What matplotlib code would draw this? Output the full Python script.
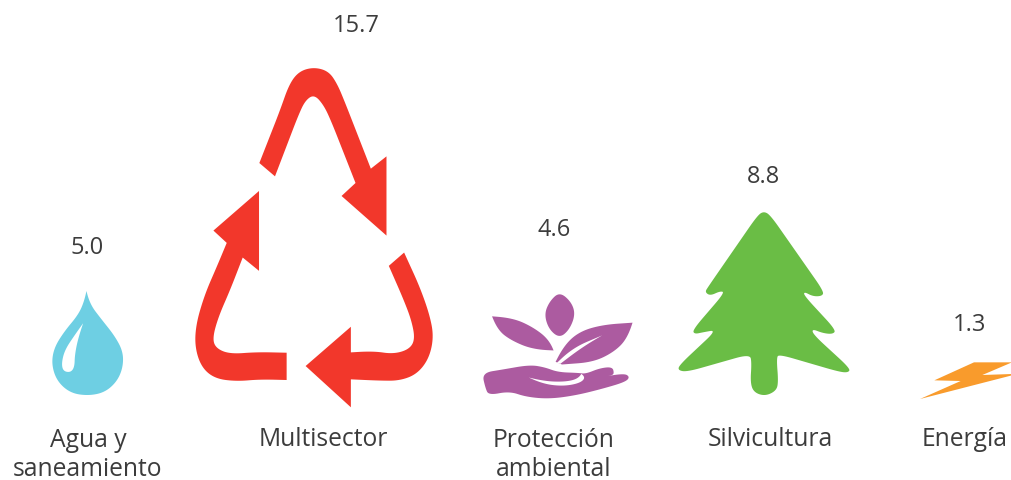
import numpy as np
import matplotlib
matplotlib.use("Agg")
import matplotlib.pyplot as plt
from matplotlib.path import Path
from matplotlib.patches import PathPatch

categories = ["Agua y\nsaneamiento", "Multisector", "Protección\nambiental", "Silvicultura", "Energía"]
values = [5.0, 15.7, 4.6, 8.8, 1.3]
value_labels = ["5.0", "15.7", "4.6", "8.8", "1.3"]
colors = ["#6ECFE3", "#F2372B", "#AC5BA0", "#6ABD45", "#F99B2C"]

# layout (pixels)
icon_cx = [87.7, 314, 558, 764, 966]
icon_base = [395, 407.3, 398.3, 395, 399]
px_per_unit = [20.8, 21.6, 22.6, 20.76, 28.2]
value_xy = [(87, 248), (356, 25.5), (554, 230.5), (764, 177), (970, 325)]
label_xy = [(88, 455), (323, 439.5), (554, 455), (770, 439.5), (965, 439.5)]
TEXT = "#3C3C3C"
C = 1  # corner flag
MAX_CUT = 45.0


def outline(pts):
    """Closed outline: flagged points stay sharp, others are rounded off with a quadratic curve."""
    P = [np.array(p[:2], float) for p in pts]
    corner = [len(p) > 2 and p[2] == C for p in pts]
    n = len(P)
    out = []
    for i in range(n):
        prev, cur, nxt = P[i - 1], P[i], P[(i + 1) % n]
        if corner[i]:
            out.append(cur)
            continue
        d1, d2 = np.linalg.norm(prev - cur), np.linalg.norm(nxt - cur)
        c1 = min(MAX_CUT, d1 * (0.5 if not corner[i - 1] else 0.8))
        c2 = min(MAX_CUT, d2 * (0.5 if not corner[(i + 1) % n] else 0.8))
        a = cur + (prev - cur) / d1 * c1
        b = cur + (nxt - cur) / d2 * c2
        for t in np.linspace(0, 1, 12):
            out.append((1 - t) ** 2 * a + 2 * (1 - t) * t * cur + t ** 2 * b)
    return np.array(out)


drop = [[(170, 33, C), (180, 72), (215, 118), (255, 168), (280, 215), (280, 262), (262, 305), (225, 338),
         (175, 348), (122, 340), (82, 305), (65, 255), (72, 205), (103, 155), (145, 105), (163, 65)]]
drop_white = [[(160, 130, C), (135, 165), (105, 210), (95, 250), (100, 274), (122, 278), (134, 262), (135, 225),
               (145, 175)]]

recycle = [
    [(238, 338, C), (300, 180), (328, 100), (358, 62), (402, 50), (446, 62), (472, 100), (495, 155),
     (573, 355, C), (620, 318, C), (620, 556, C), (485, 437, C), (527, 398, C), (455, 215), (432, 165),
     (403, 132), (376, 150), (355, 195), (285, 378, C)],
    [(627, 647, C), (673, 607, C), (720, 710), (750, 795), (762, 860), (748, 925), (712, 972), (660, 992),
     (600, 992), (513, 988, C), (513, 1072, C), (377, 948, C), (513, 830, C), (513, 907, C), (580, 903),
     (640, 912), (688, 898), (706, 868), (695, 810), (670, 745)],
    [(320, 908, C), (320, 990, C), (240, 988), (170, 994), (105, 986), (64, 952), (44, 890), (48, 820),
     (75, 730), (110, 650), (140, 578, C), (100, 541, C), (237, 422, C), (237, 662, C), (188, 622, C),
     (150, 720), (115, 800), (97, 865), (108, 895), (150, 912), (230, 906)],
]

lotus = [
    [(270, 38), (305, 68), (317, 105), (300, 150), (270, 176), (238, 150), (224, 105), (240, 66)],
    [(68, 111, C), (130, 116), (190, 143), (238, 180), (252, 213, C), (190, 210), (125, 183), (85, 152)],
    [(488, 130, C), (472, 178), (432, 218), (370, 248), (277, 255, C), (258, 247, C), (283, 198), (330, 156),
     (400, 136)],
    [(38, 280), (100, 270), (180, 256), (225, 263), (265, 278), (325, 280), (348, 283), (390, 266),
     (428, 262), (433, 282), (425, 288), (395, 293, C), (462, 281), (480, 292), (467, 307), (400, 327),
     (320, 347), (240, 358), (170, 352), (120, 335), (58, 347), (48, 325)],
]
lotus_white = [
    [(262, 250, C), (310, 205), (397, 168, C), (335, 205), (272, 253, C)],
    [(178, 294, C), (225, 305), (285, 307), (325, 298), (335, 283, C), (348, 294), (330, 311), (280, 320),
     (220, 313)],
]

tree = [[(282, 32), (302, 44), (463, 274), (458, 288), (430, 289), (404, 275), (403, 286), (500, 391), (490, 403),
         (460, 400), (427, 387), (432, 405), (543, 507), (537, 519), (510, 517), (328, 464), (320, 475), (326, 550),
         (318, 575), (285, 590), (252, 579), (241, 550), (245, 490), (240, 463), (50, 517), (22, 512), (28, 495),
         (140, 390), (100, 397), (72, 403), (67, 390), (164, 277), (150, 273), (120, 287), (104, 276), (113, 261),
         (263, 44)]]

bolt = [[(222, 37, C), (336, 37, C), (247, 75, C), (336, 72, C), (336, 76, C), (60, 147, C), (182, 93, C),
         (103, 91, C)]]

icons = [(drop, drop_white), (recycle, []), (lotus, lotus_white), (tree, []), (bolt, [])]

fig = plt.figure(figsize=(10.12, 4.8), dpi=100, facecolor="white")
ax = fig.add_axes([0, 0, 1, 1])
ax.set_xlim(0, 1012)
ax.set_ylim(480, 0)
ax.axis("off")


def fill(shape, cx_off, base_off, scale, origin, color, z):
    xy = outline(shape)
    xy = np.column_stack([origin[0] + (xy[:, 0] - cx_off) * scale, origin[1] + (xy[:, 1] - base_off) * scale])
    ax.add_patch(PathPatch(Path(np.vstack([xy, xy[:1]]), closed=True), fc=color, ec="none", zorder=z))


for i, (shapes, whites) in enumerate(icons):
    allp = np.vstack([outline(s) for s in shapes])
    xmin, xmax, ymin, ymax = allp[:, 0].min(), allp[:, 0].max(), allp[:, 1].min(), allp[:, 1].max()
    height_px = values[i] * px_per_unit[i]
    scale = height_px / (ymax - ymin)
    for s in shapes:
        fill(s, (xmin + xmax) / 2, ymax, scale, (icon_cx[i], icon_base[i]), colors[i], 2)
    for s in whites:
        fill(s, (xmin + xmax) / 2, ymax, scale, (icon_cx[i], icon_base[i]), "white", 3)

font = ["Open Sans", "DejaVu Sans"]
for lab, (x, y) in zip(value_labels, value_xy):
    ax.text(x, y, lab, ha="center", va="center", fontsize=17, color=TEXT, family=font)
for lab, (x, y) in zip(categories, label_xy):
    ax.text(x, y, lab, ha="center", va="center", fontsize=17.7, color=TEXT, family=font, linespacing=1.2)

fig.savefig("out.png", dpi=100, facecolor="white")
